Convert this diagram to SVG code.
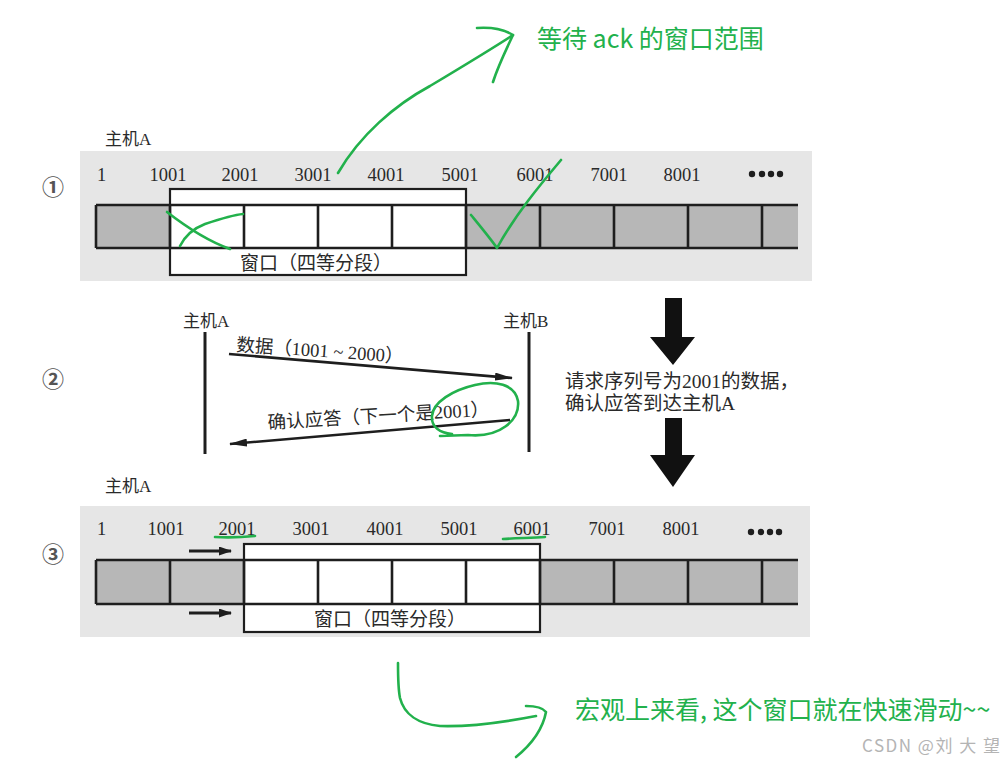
<svg xmlns="http://www.w3.org/2000/svg" width="1008" height="762" viewBox="0 0 1008 762">
<style>
.bg{fill:#e6e6e6}
.cell{fill:#b7b7b7}
.cell2{fill:#c2c2c2}
.win{fill:#ffffff;stroke:#1e1e1e;stroke-width:2.2}
.ln{stroke:#1e1e1e;stroke-width:2.6;fill:none}
.num{font-family:"Liberation Serif","Noto Sans CJK SC",serif;font-size:18.5px;fill:#2a2a2a;text-anchor:middle}
.lbl{font-family:"Liberation Serif","Noto Sans CJK SC",serif;font-size:17px;fill:#2a2a2a}
.wl{font-family:"Liberation Serif","Noto Sans CJK SC",serif;font-size:19px;fill:#2a2a2a;text-anchor:middle}
.msg{font-family:"Liberation Serif","Noto Sans CJK SC",serif;font-size:18.5px;fill:#2a2a2a}
.side{font-family:"Liberation Serif","Noto Sans CJK SC",serif;font-size:19.5px;fill:#2a2a2a}
.circ{font-family:"Noto Sans CJK SC","DejaVu Sans",sans-serif;font-size:22px;font-weight:bold;fill:#555;text-anchor:middle}
.g{stroke:#22b14c;stroke-width:2.6;fill:none;stroke-linecap:round;stroke-linejoin:round}
.gt{font-family:"Noto Sans CJK SC","Noto Sans",sans-serif;font-size:25px;fill:#22b14c}
.wm{font-family:"Noto Sans CJK SC","Noto Sans",sans-serif;font-size:17px;fill:#b4b4b4;letter-spacing:1.5px}
.dot{fill:#1e1e1e}
.big{fill:#111}
</style>
<defs>
<marker id="ah" viewBox="0 0 18 8" refX="17" refY="4" markerWidth="18" markerHeight="8" markerUnits="userSpaceOnUse" orient="auto">
<path d="M0,0 L18,4 L0,8 Z" fill="#1e1e1e"/>
</marker>
<marker id="ah2" viewBox="0 0 13 9" refX="12" refY="4.5" markerWidth="13" markerHeight="9" markerUnits="userSpaceOnUse" orient="auto">
<path d="M0,0 L13,4.5 L0,9 Z" fill="#1e1e1e"/>
</marker>
</defs>
<rect width="1008" height="762" fill="#ffffff"/>

<g id="panel1">
<rect class="bg" x="80" y="151" width="732" height="130"/>
<text class="lbl" x="105" y="145">主机A</text>
<text class="circ" x="53" y="195">①</text>
<rect class="cell" x="96" y="205" width="74" height="43"/>
<rect class="cell" x="466" y="205" width="332" height="43"/>
<rect class="win" x="170" y="189" width="296" height="86"/>
<path class="ln" d="M96,205 H798 M96,248 H798 M96,205 V248 M170,205 V248 M244,205 V248 M318,205 V248 M392,205 V248 M466,205 V248 M540,205 V248 M614,205 V248 M688,205 V248 M762,205 V248"/>
<text class="wl" x="316" y="270">窗口（四等分段）</text>
<text class="num" x="97" y="181" style="text-anchor:start">1</text>
<text class="num" x="168" y="181">1001</text>
<text class="num" x="240" y="181">2001</text>
<text class="num" x="313" y="181">3001</text>
<text class="num" x="386" y="181">4001</text>
<text class="num" x="460" y="181">5001</text>
<text class="num" x="535" y="181">6001</text>
<text class="num" x="609" y="181">7001</text>
<text class="num" x="682" y="181">8001</text>
<circle class="dot" cx="752" cy="174" r="3.2"/>
<circle class="dot" cx="762" cy="174" r="3.2"/>
<circle class="dot" cx="771" cy="174" r="3.2"/>
<circle class="dot" cx="780" cy="174" r="3.2"/>
</g>

<g id="panel2">
<text class="circ" x="53" y="387">②</text>
<text class="lbl" x="183" y="327">主机A</text>
<text class="lbl" x="503" y="327">主机B</text>
<text class="msg" transform="translate(236,351) rotate(4)">数据（1001 ~ 2000）</text>
<text class="msg" transform="translate(268,429) rotate(-3.5)">确认应答（下一个是2001）</text>
</g>

<g id="side-note">
<path class="big" d="M665,298 H682 V337 H695 L673,365 L650,337 H665 Z"/>
<path class="big" d="M665,418 H682 V455 H695 L673,487 L650,455 H665 Z"/>
<text class="side" x="565" y="388">请求序列号为2001的数据，</text>
<text class="side" x="565" y="410">确认应答到达主机A</text>
</g>

<g id="panel3">
<rect class="bg" x="80" y="506" width="730" height="131"/>
<text class="lbl" x="105" y="492">主机A</text>
<text class="circ" x="53" y="562">③</text>
<rect class="cell" x="96" y="560" width="74" height="44"/>
<rect class="cell2" x="170" y="560" width="74" height="44"/>
<rect class="cell" x="540" y="560" width="258" height="44"/>
<rect class="win" x="244" y="544" width="296" height="88"/>
<path class="ln" d="M96,560 H798 M96,604 H798 M96,560 V604 M170,560 V604 M244,560 V604 M318,560 V604 M392,560 V604 M466,560 V604 M540,560 V604 M614,560 V604 M688,560 V604 M762,560 V604"/>
<text class="wl" x="390" y="626">窗口（四等分段）</text>
<text class="num" x="97" y="535" style="text-anchor:start">1</text>
<text class="num" x="166" y="535">1001</text>
<text class="num" x="237" y="535">2001</text>
<text class="num" x="311" y="535">3001</text>
<text class="num" x="385" y="535">4001</text>
<text class="num" x="459" y="535">5001</text>
<text class="num" x="532" y="535">6001</text>
<text class="num" x="607" y="535">7001</text>
<text class="num" x="681" y="535">8001</text>
<circle class="dot" cx="751" cy="532" r="3.2"/>
<circle class="dot" cx="761" cy="532" r="3.2"/>
<circle class="dot" cx="770" cy="532" r="3.2"/>
<circle class="dot" cx="779" cy="532" r="3.2"/>
</g>

<g id="connectors">
<line class="ln" x1="205" y1="332" x2="205" y2="454" style="stroke-width:3"/>
<line class="ln" x1="529" y1="332" x2="529" y2="452" style="stroke-width:3"/>
<line class="ln" x1="229" y1="354" x2="512" y2="378" marker-end="url(#ah)"/>
<line class="ln" x1="510" y1="420" x2="230" y2="444" marker-end="url(#ah)"/>
<line class="ln" x1="189" y1="551" x2="231" y2="551" style="stroke-width:3" marker-end="url(#ah2)"/>
<line class="ln" x1="189" y1="613" x2="231" y2="613" style="stroke-width:3" marker-end="url(#ah2)"/>
</g>

<g id="annotations">
<path class="g" d="M338,173 C360,135 395,105 430,86 C460,68 490,50 513,35"/>
<path class="g" d="M477,28 C492,27 505,30 513,35 C505,52 498,66 493,82"/>
<text class="gt" x="537" y="48">等待 ack 的窗口范围</text>
<path class="g" d="M167,212 C185,226 205,240 230,249"/>
<path class="g" d="M180,246 C185,236 192,229 205,224 C220,219 232,215 243,214"/>
<path class="g" d="M471,215 C480,226 490,238 497,248 C515,215 540,185 561,160"/>
<path class="g" d="M440,436 L468,435 C500,438 520,420 518,401 C515,384 495,380 475,385 C453,390 433,402 432,416 C431,427 440,433 452,434"/>
<path class="g" d="M215,537 C230,538 245,537 255,536"/>
<path class="g" d="M503,539 C518,538 532,538 545,537"/>
<path class="g" d="M398,663 C398,675 398,688 400,698 C404,714 418,724 440,726 C470,727 505,722 536,716"/>
<path class="g" d="M526,706 C536,706 543,708 546,712 C543,728 532,744 516,757"/>
<text class="gt" x="575" y="719">宏观上来看, 这个窗口就在快速滑动~~</text>
<text class="wm" x="862" y="752">CSDN @刘 大 望</text>
</g>
</svg>
